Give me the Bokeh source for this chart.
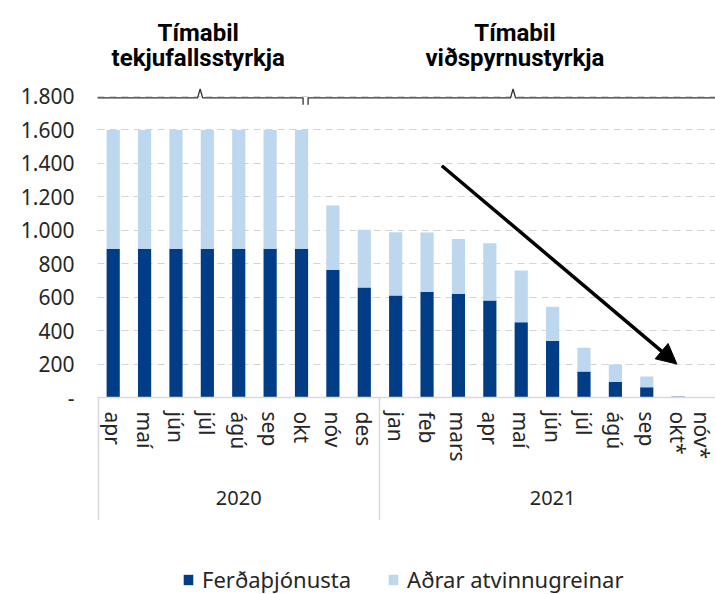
from bokeh.plotting import figure
from bokeh.layouts import column
from bokeh.models import (Range1d, FixedTicker, LinearAxis, Arrow, NormalHead, Legend,
                          LegendItem, ColumnDataSource, Grid)
from bokeh.embed import file_html
from bokeh.resources import INLINE
from bokeh.core.properties import value

# ---------------- data ----------------
months = ['apr', 'maí', 'jún', 'júl', 'ágú', 'sep', 'okt', 'nóv', 'des',
          'jan', 'feb', 'mars', 'apr', 'maí', 'jún', 'júl', 'ágú', 'sep', 'okt*', 'nóv*']
years = ['2020', '2021']
year_sizes = [9, 11]
ferdathjonusta = [890, 890, 890, 890, 890, 890, 890, 762, 658, 610, 632, 620, 580, 450,
                  338, 155, 92, 62, 6, 0]
heild = [1600, 1600, 1600, 1600, 1600, 1600, 1600, 1148, 1003, 988, 987, 948, 923, 760,
         543, 297, 198, 125, 9, 0]
adrar = [h - f for h, f in zip(heild, ferdathjonusta)]
series_names = ['Ferðaþjónusta', 'Aðrar atvinnugreinar']
colors = ['#003D86', '#BDD7EE']
y_ticks = [0, 200, 400, 600, 800, 1000, 1200, 1400, 1600, 1800]
y_labels = ['-', '200', '400', '600', '800', '1.000', '1.200', '1.400', '1.600', '1.800']
period_titles = [('Tímabil', 'tekjufallsstyrkja'), ('Tímabil', 'viðspyrnustyrkja')]

FONT = "Noto Sans"
TXT = "#262626"

x = list(range(len(months)))
src = ColumnDataSource(dict(x=x, s0=ferdathjonusta, s1=adrar))

p = figure(width=715, height=520, output_backend="svg", toolbar_location=None,
           x_range=Range1d(-0.5, 19.19), y_range=Range1d(0, 2374),
           x_axis_type=None, y_axis_type=None,
           min_border_left=97, min_border_right=0, min_border_top=0, min_border_bottom=123)
p.outline_line_color = None

# grid
grid = Grid(dimension=1, ticker=FixedTicker(ticks=y_ticks[1:]),
            grid_line_color="#d4d4d4", grid_line_dash="7 5", grid_line_width=1)
p.add_layout(grid)

# bars
rs = p.vbar_stack(['s0', 's1'], x='x', width=0.42, color=colors, source=src, line_width=0)

# y axis
yax = LinearAxis(ticker=FixedTicker(ticks=y_ticks),
                 major_label_overrides={t: l for t, l in zip(y_ticks, y_labels)},
                 axis_line_color=None, major_tick_line_color=None, minor_tick_line_color=None,
                 major_tick_in=0, major_tick_out=0, minor_tick_in=0, minor_tick_out=0,
                 major_label_standoff=23, major_label_text_font=FONT,
                 major_label_text_font_size="21px", major_label_text_color=TXT)
p.add_layout(yax, "left")

# month axis; group separators drawn as outward minor ticks
group_edges = [-0.48]
acc = 0
for s in year_sizes[:-1]:
    acc += s
    group_edges.append(acc - 0.5)
xax = LinearAxis(ticker=FixedTicker(ticks=x, minor_ticks=group_edges),
                 major_label_overrides={i: m for i, m in zip(x, months)},
                 major_label_orientation="vertical",
                 axis_line_color="#d9d9d9", axis_line_width=1.5,
                 major_tick_line_color=None, major_tick_in=0, major_tick_out=0,
                 minor_tick_line_color="#d9d9d9", minor_tick_line_width=1.5,
                 minor_tick_in=-123, minor_tick_out=0,
                 major_label_standoff=14, major_label_text_font=FONT,
                 major_label_text_font_size="21px", major_label_text_color=TXT)
p.add_layout(xax, "below")

# year axis
centers = []
start = 0
for s in year_sizes:
    centers.append(start + (s - 1) / 2)
    start += s
yrax = LinearAxis(ticker=FixedTicker(ticks=centers),
                  major_label_overrides={c: yv for c, yv in zip(centers, years)},
                  axis_line_color=None, major_tick_line_color=None, minor_tick_line_color=None,
                  major_tick_in=0, major_tick_out=0, minor_tick_in=0, minor_tick_out=0,
                  major_label_standoff=26, major_label_text_font=FONT,
                  major_label_text_font_size="20px", major_label_text_color=TXT)
p.add_layout(yrax, "below")

# brackets above the two periods
brackets = [(-0.57, 6.05, 2.77), (6.21, 19.6, 12.74)]
for x0, x1, xm in brackets:
    p.line([x0, x0, xm - 0.08, xm, xm + 0.08, x1, x1],
           [1750, 1792, 1792, 1845, 1792, 1792, 1750],
           line_color="#303030", line_width=1.3)

# period titles
title_x = [2.71, 12.8]
for (t1, t2), tx in zip(period_titles, title_x):
    p.text(x=[tx, tx], y=[2181, 2031], text=[t1, t2], text_align="center",
           text_baseline="alphabetic", text_font=value("Roboto"), text_font_style="bold",
           text_font_size="24px", text_color="black")

# arrow
p.add_layout(Arrow(end=NormalHead(size=20, fill_color="black", line_color="black"),
                   x_start=10.47, y_start=1386, x_end=17.96, y_end=200,
                   line_width=3.5, line_color="black"))

# legend strip below the chart (frame aligned with the chart's frame)
p2 = figure(width=715, height=74, output_backend="svg", toolbar_location=None,
            x_range=Range1d(0, 1), y_range=Range1d(0, 1),
            x_axis_type=None, y_axis_type=None, min_border=0)
p2.outline_line_color = None
# legend-only proxies placed outside the visible range
lr = [p2.vbar(x=[-5], top=[0], width=0.1, color=c, line_width=0) for c in colors]
legend = Legend(items=[LegendItem(label=n, renderers=[r]) for n, r in zip(series_names, lr)],
                orientation="horizontal", location=(85, 0),
                glyph_width=12, glyph_height=13, label_standoff=8, spacing=36,
                padding=0, margin=0, border_line_color=None, background_fill_alpha=0,
                label_text_font=FONT, label_text_font_size="22px", label_text_color=TXT)
p2.add_layout(legend, "center")

open("out.html", "w").write(file_html(column(p, p2, spacing=0), INLINE))
